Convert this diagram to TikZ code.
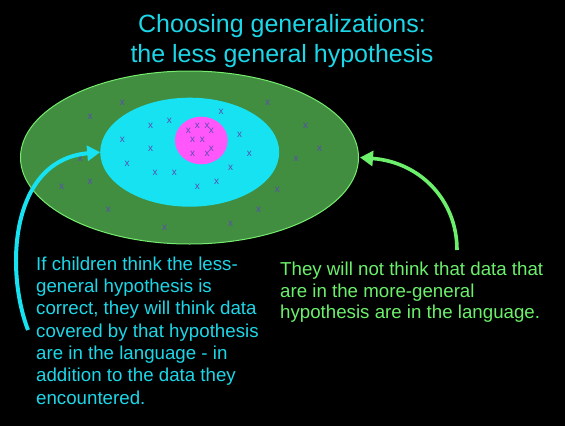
\documentclass[tikz,border=0pt]{standalone}
\usepackage{fontspec}
\setmainfont{Liberation Sans}
\usetikzlibrary{arrows.meta,shapes.geometric}
\definecolor{tcyan}{HTML}{1CD7E8}
\definecolor{fcyan}{HTML}{16E2F2}
\definecolor{fgreen}{HTML}{418E41}
\definecolor{lgreen}{HTML}{76EC6E}
\definecolor{tgreen}{HTML}{6CF06C}
\definecolor{fmag}{HTML}{FF57FA}
\definecolor{xmark}{HTML}{5B4CB0}
\tikzset{
  ell/.style={ellipse, inner sep=0pt, outer sep=0pt},
  xm/.style={text=xmark, inner sep=0pt, font=\fontsize{10}{10}\selectfont},
  bodytext/.style={inner sep=0pt, align=left, anchor=north west, font=\fontsize{18.7}{22.3}\selectfont},
  arr/.style={line width=4pt, -{Triangle[length=13pt,width=15pt]}}
}
\begin{document}
\begin{tikzpicture}[x=1pt,y=-1pt]
\fill[black] (0,0) rectangle (565,426);
\useasboundingbox (0,0) rectangle (565,426);
% title
\node[inner sep=0pt, anchor=north, align=center, text=tcyan,
      font=\fontsize{25}{30}\selectfont] (title) at (282,14.5)
  {Choosing generalizations:\\the less general hypothesis};
% ellipses
\node[ell, draw=lgreen, line width=1pt, fill=fgreen, minimum width=338pt, minimum height=173pt] (outer) at (189.5,157.5) {};
\node[ell, fill=fcyan, minimum width=179pt, minimum height=109pt] (mid) at (189.7,152.2) {};
\node[ell, fill=fmag, minimum width=52.7pt, minimum height=47.6pt] (inner) at (201.3,140.5) {};
% x marks
\foreach \px/\py [count=\i] in {
 122.3/103.3, 90/117.3, 267.7/103.3, 221/112.3, 150.7/126.3, 169.3/121.3,
 197.3/126.3, 207/126.3, 188.3/131.3, 211.3/131.3, 305.7/126.3, 122.3/140.3,
 192.7/140.3, 202.3/140.3, 239.7/135.3, 150.7/149.3, 211.3/149.3, 192.7/154.3,
 207/154.3, 249.3/154.3, 319.7/149.3, 80/159.3, 296/159.3, 127/164.3,
 230.7/168.3, 155/173.3, 174.3/173.3, 61.7/187.3, 90/182.3, 197.3/187.3,
 216.7/182.3, 277.3/190.3, 108.3/210.3, 258.7/210.3, 230.7/224.3, 164.7/228.3}
 { \node[xm] (x\i) at (\px,\py) {x}; }
% texts
\node[bodytext, text=tcyan] (lefttext) at (36,256.5)
  {If children think the less-\\general hypothesis is\\correct, they will think data\\covered by that hypothesis\\are in the language - in\\addition to the data they\\encountered.};
\node[bodytext, text=tgreen, font=\fontsize{18.7}{21.8}\selectfont] (righttext) at (280,261.5)
  {They will not think that data that\\are in the more-general\\hypothesis are in the language.};
% arrows
\coordinate (cstart) at (28,330);
\coordinate (gstart) at (457,250);
\draw[arr, draw=fcyan] (cstart) .. controls (5,270) and (10,160) .. (mid.west);
\draw[arr, line width=3.6pt, draw=tgreen] (gstart) .. controls (457,200) and (420,162) .. ([xshift=1.5pt]outer.east);
\end{tikzpicture}
\end{document}
